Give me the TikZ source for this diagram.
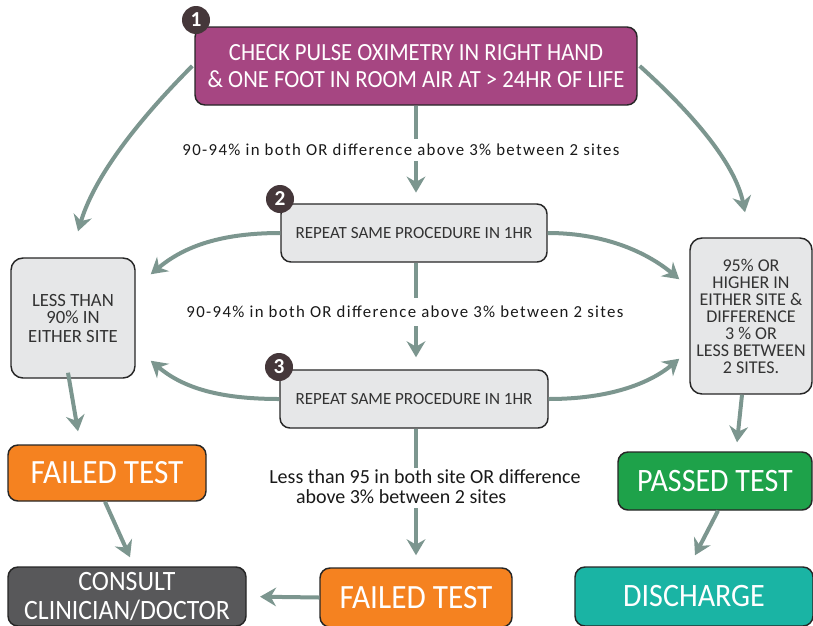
\documentclass[tikz,border=0pt]{standalone}
\usepackage{fontspec}
\setmainfont{Carlito}
\newfontfamily\cond[FakeStretch=0.92]{Carlito}
\newfontfamily\spaced[LetterSpace=8]{Carlito}
\usetikzlibrary{arrows.meta,calc}
\definecolor{cpurple}{HTML}{A64682}
\definecolor{cgrey}{HTML}{E6E7E8}
\definecolor{corange}{HTML}{F58220}
\definecolor{cgreen}{HTML}{1EA24A}
\definecolor{cteal}{HTML}{1AB4A4}
\definecolor{cdark}{HTML}{58585A}
\definecolor{carrow}{HTML}{7C968F}
\definecolor{cbadge}{HTML}{45373A}
\definecolor{ctext}{HTML}{333333}
\tikzset{
  box/.style={draw=black!85, line width=1.1pt, rounded corners=7.5pt, align=center, inner sep=0pt},
  greybox/.style={box, fill=cgrey, text=ctext, font=\fontsize{12.8}{12.8}\selectfont},
  colbox/.style={box, text=white, font=\cond\fontsize{25.5}{25.5}\selectfont},
  badge/.style={circle, fill=cbadge, text=white, inner sep=0pt, minimum size=21pt, font=\bfseries\fontsize{16}{16}\selectfont},
  arr/.style={draw=carrow, line width=3pt, -{Stealth[length=12pt,width=14pt,inset=4pt]}},
  ln/.style={draw=carrow, line width=3pt},
  lab/.style={font=\spaced\fontsize{12.6}{15}\selectfont, text=black!90, align=center, inner sep=0pt}
}
\begin{document}
\begin{tikzpicture}[x=0.75pt,y=-0.75pt]
\useasboundingbox (0,0) rectangle (813,625);
% boxes
\node[box, fill=cpurple, text=white, minimum width=331.5pt, minimum height=58.5pt,
  font=\cond\fontsize{18.5}{20.5}\selectfont] (b1) at (416,66)
  {CHECK PULSE OXIMETRY IN RIGHT HAND\\\& ONE FOOT IN ROOM AIR AT > 24HR OF LIFE};
\node[greybox, minimum width=199.5pt, minimum height=43.5pt] (b2) at (414,233) {REPEAT SAME PROCEDURE IN 1HR};
\node[greybox, minimum width=201pt, minimum height=43.5pt] (b3) at (414,399) {REPEAT SAME PROCEDURE IN 1HR};
\node[greybox, rounded corners=9pt, minimum width=93pt, minimum height=90pt,
  font=\fontsize{14}{13.5}\selectfont] (lb) at (73,318)
  {LESS THAN\\90\% IN\\EITHER SITE};
\node[greybox, rounded corners=9pt, minimum width=91.5pt, minimum height=117pt,
  font=\fontsize{13.5}{12.75}\selectfont] (rb) at (751,316)
  {95\% OR\\HIGHER IN\\EITHER SITE \&\\DIFFERENCE\\3 \% OR\\LESS BETWEEN\\2 SITES.};
\node[colbox, fill=corange, minimum width=148.5pt, minimum height=42pt] (fl) at (107,473) {FAILED TEST};
\node[colbox, fill=cgreen, minimum width=145.5pt, minimum height=43.5pt,
  font=\cond\fontsize{24.5}{24.5}\selectfont] (pb) at (715,481) {PASSED TEST};
\node[colbox, fill=cdark, minimum width=178.5pt, minimum height=44.25pt,
  font=\cond\fontsize{21}{22}\selectfont] (co) at (127,596.5) {CONSULT\\CLINICIAN/DOCTOR};
\node[colbox, fill=corange, minimum width=144pt, minimum height=44.25pt] (fb) at (416,597.5) {FAILED TEST};
\node[colbox, fill=cteal, minimum width=178.5pt, minimum height=44.25pt,
  font=\cond\fontsize{24.5}{24.5}\selectfont] (di) at (694,596.5) {DISCHARGE};
% badges
\node[badge] (n1) at (196,20) {1};
\node[badge] (n2) at (280,199) {2};
\node[badge] (n3) at (279,367) {3};
% labels
\node[lab] (l1) at (401,150) {90-94\% in both OR difference above 3\% between 2 sites};
\node[lab] (l2) at (405,312) {90-94\% in both OR difference above 3\% between 2 sites};
\node[lab, font=\fontsize{15}{15}\selectfont, align=left] (l3) at (425,487) {Less than 95 in both site OR difference\\\hspace*{20pt}above 3\% between 2 sites};
% vertical connectors
\draw[ln] (b1.south) -- ($(l1.north -| b1.south)+(0,-5)$);
\draw[arr, shorten >=8pt] ($(l1.south -| b1.south)+(0,5)$) -- (b2.north -| b1.south);
\draw[ln] (b2.south -| b1.south) -- ($(l2.north -| b1.south)+(0,-8)$);
\draw[arr, shorten >=9pt] ($(l2.south -| b1.south)+(0,8)$) -- (b3.north -| b1.south);
\draw[ln] (b3.south -| b1.south) -- ($(l3.north -| b1.south)+(0,-2)$);
\draw[arr, shorten >=9pt] ($(l3.south -| b1.south)+(0,4)$) -- (fb.north -| b1.south);
% curved connectors
\draw[arr] ($(b1.west)+(-2,0)$) .. controls +(-45,45) and +(18,-60) .. ($(lb.north)+(5,-26)$);
\draw[arr] ($(b1.east)+(2,0)$) .. controls +(50,45) and +(-10,-50) .. ($(rb.north)+(-6,-25)$);
\draw[arr] (b2.west) .. controls +(-65,0) and +(30,-25) .. ($(lb.north east)+(15,17)$);
\draw[arr] (b2.east) .. controls +(60,0) and +(-30,-25) .. ($(rb.north west)+(-10,42)$);
\draw[arr] (b3.west) .. controls +(-65,0) and +(30,25) .. ($(lb.south east)+(15,-18)$);
\draw[arr] (b3.east) .. controls +(60,0) and +(-30,25) .. ($(rb.south west)+(-10,-36)$);
% short arrows
\draw[arr] ($(lb.south)+(-5,-6)$) -- ($(fl.north)+(-29,-13)$);
\draw[arr] ($(rb.south)+(-9,0)$) -- ($(pb.north)+(22,-9)$);
\draw[arr] ($(fl.south)+(-2,0)$) -- ($(co.north)+(3,-9)$);
\draw[arr] ($(pb.south)+(3,0)$) -- ($(di.north)+(1,-11)$);
\draw[arr, shorten >=10pt] (fb.west) -- (co.east);
\end{tikzpicture}
\end{document}
